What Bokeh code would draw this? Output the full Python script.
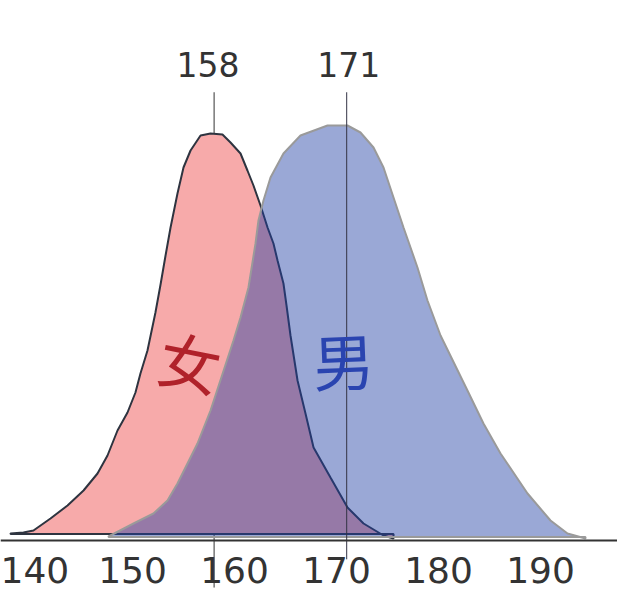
from bokeh.plotting import figure
from bokeh.models import FixedTicker, ColumnDataSource
from bokeh.core.properties import value
from bokeh.embed import file_html
from bokeh.resources import INLINE

# ---- data (height in cm, density in % per cm) ----
female_x = [138.04, 139.31, 140.29, 141.96, 143.63, 145.20, 146.57, 147.55, 148.53,
            149.51, 150.29, 150.78, 151.47, 152.25, 152.75, 153.24, 153.73, 154.41,
            155.00, 155.69, 156.67, 157.65, 158.82, 159.61, 160.59, 161.27, 161.86,
            162.55, 163.24, 163.82, 164.22, 164.80, 165.10, 165.49, 166.18, 166.96,
            167.75, 169.41, 171.08, 172.65, 174.61, 175.59]
female_y = [0.119, 0.136, 0.17, 0.374, 0.595, 0.85, 1.139, 1.445, 1.87,
            2.176, 2.516, 2.839, 3.23, 3.876, 4.352, 4.845, 5.321, 5.899,
            6.341, 6.63, 6.885, 6.919, 6.902, 6.766, 6.579, 6.29, 6.035,
            5.695, 5.321, 5.049, 4.76, 4.369, 3.995, 3.485, 2.72, 2.159,
            1.581, 1.071, 0.561, 0.289, 0.085, 0.034]
female_base = 0.11

male_x = [147.65, 150.10, 152.06, 153.43, 154.41, 155.39, 156.37, 157.65, 159.90,
          160.59, 161.37, 162.06, 162.35, 162.84, 163.53, 164.80, 166.47, 169.12,
          171.08, 172.35, 173.63, 174.61, 175.59, 176.57, 177.94, 178.92, 180.20,
          182.84, 184.41, 186.08, 188.73, 190.98, 192.65, 194.41]
male_y = [0.068, 0.289, 0.459, 0.68, 0.969, 1.309, 1.649, 2.21, 3.40,
          3.791, 4.301, 5.049, 5.44, 5.78, 6.171, 6.579, 6.885, 7.055,
          7.055, 6.936, 6.681, 6.341, 5.831, 5.321, 4.641, 4.08, 3.485,
          2.55, 1.989, 1.479, 0.799, 0.34, 0.119, 0.034]
male_base = 0.06

means = [158, 171]
mean_labels = ["158", "171"]
mean_line_bottom = [-0.8, -0.32]
tick_values = [140, 150, 160, 170, 180, 190]
group_labels = ["女", "男"]
group_label_x = [155.69, 170.69]
group_label_y = [3.06, 3.09]

# ---- figure ----
W, H = 617, 599
p = figure(width=W, height=H, output_backend="svg", toolbar_location=None,
           x_range=(137.059, 197.549), y_range=(-1.003, 9.18),
           y_axis_location=None, min_border=0)
p.min_border_left = 0
p.min_border_right = 0
p.min_border_top = 0
p.min_border_bottom = 0
p.outline_line_color = None
p.xgrid.visible = False
p.ygrid.visible = False
p.background_fill_color = "white"
p.border_fill_color = "white"

ax = p.xaxis[0]
ax.fixed_location = 0
ax.ticker = FixedTicker(ticks=tick_values)
ax.minor_tick_line_color = None
ax.major_tick_in = 0
ax.major_tick_out = 0
ax.axis_line_color = "#333333"
ax.axis_line_width = 2
ax.major_label_text_font = "DejaVu Sans"
ax.major_label_text_font_size = "36px"
ax.major_label_text_color = "#333333"
ax.major_label_standoff = 16

# mean line for women (behind the fills)
p.segment(x0=[means[0]], y0=[7.62], x1=[means[0]], y1=[mean_line_bottom[0]],
          line_color="#333333", line_width=1)

# female density
fx = [female_x[0]] + female_x + [female_x[-1]]
fy = [female_base] + female_y + [female_base]
p.patch(fx, fy, fill_color="#F7AAAA", line_color="#2E3440", line_width=2)

# male density
mx = [male_x[0]] + male_x + [male_x[-1]]
my = [male_base] + male_y + [male_base]
p.patch(mx, my, fill_color="#1F3EA4", fill_alpha=0.45, line_color="#9A9A9A",
        line_width=2)

# mean line for men
p.segment(x0=[means[1]], y0=[7.62], x1=[means[1]], y1=[mean_line_bottom[1]],
          line_color="#333344", line_width=1)

# mean labels
src = ColumnDataSource(dict(x=means, y=[8.09, 8.09], t=mean_labels, dx=[-6, 2]))
p.text(x="x", y="y", text="t", x_offset="dx", source=src,
       text_font=value("DejaVu Sans"), text_font_size="33px",
       text_color="#333333", text_align="center", text_baseline="middle")

# group labels
gsrc = ColumnDataSource(dict(x=group_label_x, y=group_label_y, t=group_labels,
                             c=["#B0222A", "#2A44B0"], a=[-0.2, 0.04]))
p.text(x="x", y="y", text="t", source=gsrc, angle="a",
       text_font=value("Noto Sans CJK SC"), text_font_size="62px",
       text_color="c", text_align="center", text_baseline="middle")

open("out.html", "w").write(file_html(p, INLINE))
